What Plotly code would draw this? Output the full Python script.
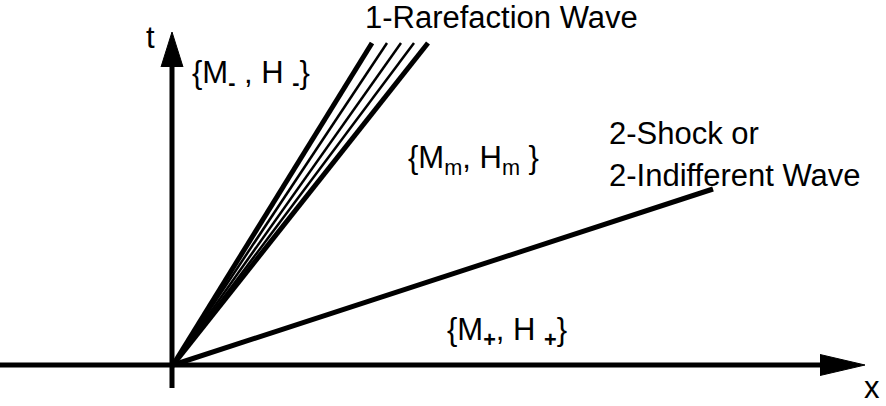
import plotly.graph_objects as go

# Geometry of the x-t diagram (data units; origin at the wave fan centre)
x_axis_start = -173
x_axis_end = 650
x_arrow = [647, 692, 647]          # base, tip, base
x_arrow_y = [-10.5, 0, 10.5]
y_axis_start = -23
y_axis_end = 300
y_arrow_x = [-12, -1, 10]
y_arrow_y = [298, 333, 298]

fan_top_y = 322
fan_top_x = [199, 214, 228, 241, 255]
fan_widths = [5, 2.5, 2.5, 2.5, 5]
shock_end = (540, 176)

labels = [
    ("t", -23, 328, "center"),
    ("x", 699, -22, "center"),
    ("1-Rarefaction Wave", 190, 348, "left"),
    ("{M<sub><b>-</b></sub> , H <sub><b>-</b></sub>}", 17, 290, "left"),
    ("{M<sub>m</sub>, H<sub>m</sub> }", 233, 205, "left"),
    ("2-Shock or", 434, 232, "left"),
    ("2-Indifferent Wave", 434, 190, "left"),
    ("{M<sub><b>+</b></sub>, H <sub><b>+</b></sub>}", 272, 33, "left"),
]

fig = go.Figure()
black = "black"

# x axis line + arrowhead
fig.add_trace(go.Scatter(x=[x_axis_start, x_axis_end], y=[0, 0], mode="lines",
                         line=dict(color=black, width=5)))
fig.add_trace(go.Scatter(x=x_arrow, y=x_arrow_y, mode="lines", fill="toself",
                         fillcolor=black, line=dict(color=black, width=1)))
# t axis line + arrowhead
fig.add_trace(go.Scatter(x=[-1, -1], y=[y_axis_start, y_axis_end], mode="lines",
                         line=dict(color=black, width=5)))
fig.add_trace(go.Scatter(x=y_arrow_x, y=y_arrow_y, mode="lines", fill="toself",
                         fillcolor=black, line=dict(color=black, width=1)))
# rarefaction fan
for xt, w in zip(fan_top_x, fan_widths):
    fig.add_trace(go.Scatter(x=[0, xt], y=[0, fan_top_y], mode="lines",
                             line=dict(color=black, width=w)))
# shock line
fig.add_trace(go.Scatter(x=[0, shock_end[0]], y=[0, shock_end[1]], mode="lines",
                         line=dict(color=black, width=5)))

for text, lx, ly, anc in labels:
    fig.add_annotation(x=lx, y=ly, text=text, showarrow=False, xanchor=anc,
                       yanchor="middle",
                       font=dict(family="Liberation Sans, Arial", size=31, color=black))

fig.update_layout(
    width=886, height=406, margin=dict(l=0, r=0, t=0, b=0),
    paper_bgcolor="white", plot_bgcolor="white", showlegend=False,
    xaxis=dict(range=[-173, 713], visible=False, fixedrange=True),
    yaxis=dict(range=[-41, 365], visible=False, fixedrange=True),
)

fig.write_html("out.html")
